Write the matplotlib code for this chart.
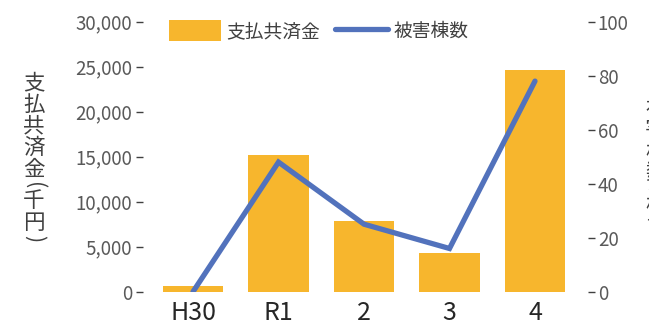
import matplotlib
matplotlib.use("Agg")
import matplotlib.pyplot as plt
from matplotlib.patches import Patch
from matplotlib.lines import Line2D

plt.rcParams['font.family'] = ['Noto Sans CJK JP', 'DejaVu Sans']

categories = ["H30", "R1", "2", "3", "4"]
payments = [650, 15200, 7900, 4300, 24600]      # 支払共済金(千円)
buildings = [0, 48, 25, 16, 78]                 # 被害棟数
left_ticks = [0, 5000, 10000, 15000, 20000, 25000, 30000]
right_ticks = [0, 20, 40, 60, 80, 100]

BAR_COLOR = "#F7B62D"
LINE_COLOR = "#5272BC"
TICK_GREY = "#595959"

W, H = 649, 326
fig = plt.figure(figsize=(W / 100, H / 100), dpi=100)
ax = fig.add_axes([143 / W, 1 - 291.7 / H, (588 - 143) / W, 270 / H])
ax2 = ax.twinx()

x = list(range(len(categories)))
ax.bar(x, payments, width=0.71, color=BAR_COLOR, zorder=2)
ax2.plot(x, buildings, color=LINE_COLOR, linewidth=3.8, solid_capstyle='round',
         solid_joinstyle='miter', zorder=3)

ax.set_xlim(-0.585, 4.62)
ax.set_ylim(0, 30000)
ax2.set_ylim(0, 100)
ax.set_yticks(left_ticks)
ax.set_yticklabels([f"{v:,}" for v in left_ticks])
ax2.set_yticks(right_ticks)
ax2.set_yticklabels([str(v) for v in right_ticks])
ax.set_xticks(x)
ax.set_xticklabels(categories)

for a in (ax, ax2):
    for s in a.spines.values():
        s.set_visible(False)
ax.tick_params(axis='x', length=0, pad=6, labelsize=18, labelcolor="#262626")
ax.tick_params(axis='y', length=5, width=1, color="#404040", pad=3,
               labelsize=13.5, labelcolor=TICK_GREY)
ax2.tick_params(axis='y', length=5, width=1, color="#404040", pad=2,
                labelsize=13.5, labelcolor=TICK_GREY)


def vertical_label(text, xc, y_start, size=15.5, color="#404040"):
    y = y_start
    for ch in text:
        if ch in "()":
            step = 10
            rot = -90
        else:
            step = 21.5
            rot = 0
        fig.text(xc / W, 1 - (y + step / 2) / H, ch, rotation=rot,
                 ha='center', va='center', fontsize=size, color=color)
        y += step


vertical_label("支払共済金(千円)", 34, 73)
vertical_label("被害棟数(棟)", 656, 98)

handles = [Patch(facecolor=BAR_COLOR, edgecolor='none'),
           Line2D([0], [0], color=LINE_COLOR, linewidth=3.8, solid_capstyle='round')]
leg = fig.legend(handles, ["支払共済金", "被害棟数"], loc='center',
                 bbox_to_anchor=(318.5 / W, 1 - 31 / H), ncol=2, frameon=False,
                 fontsize=13.5, handlelength=2.8, handleheight=1.3,
                 handletextpad=0.3, columnspacing=0.8, borderpad=0)
for t in leg.get_texts():
    t.set_color("#404040")

fig.savefig("out.png", dpi=100)
